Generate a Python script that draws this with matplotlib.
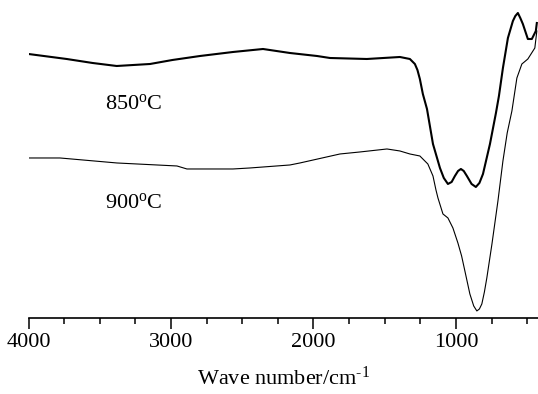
import numpy as np
import matplotlib
matplotlib.use("Agg")
import matplotlib.pyplot as plt
from matplotlib.ticker import MultipleLocator

plt.rcParams['font.family'] = ['Liberation Serif', 'DejaVu Serif']
plt.rcParams['mathtext.fontset'] = 'custom'
plt.rcParams['mathtext.rm'] = 'Liberation Serif'
plt.rcParams['mathtext.it'] = 'Liberation Serif:italic'

# FTIR spectra, transmittance in arbitrary units (curves offset)
wn_850 = [4000, 3732, 3550, 3381, 3147, 2990, 2796, 2565, 2354, 2165, 1975, 1884,
          1625, 1393, 1323, 1288, 1270, 1253, 1232, 1203, 1161, 1112, 1085, 1056,
          1030, 1007, 985, 965, 945, 923, 890, 860, 835, 810, 761, 719, 698,
          670, 635, 600, 583, 565, 548, 530, 495, 467, 439, 432]
t_850 = [264, 259, 255, 252, 254, 258, 262, 266, 269, 265, 262, 260,
         259, 261, 259, 254, 248, 239, 224, 209, 174, 150, 140, 134,
         136, 142, 147, 149, 147, 142, 134, 131, 135, 144, 174, 205, 222,
         250, 280, 297, 302, 305, 300, 294, 279, 279, 287, 295]

wn_900 = [4000, 3779, 3379, 2958, 2888, 2565, 2446, 2165, 2095, 1814, 1674, 1484,
          1393, 1323, 1253, 1197, 1161, 1140, 1126, 1091, 1056, 1021, 986, 960,
          937, 902, 875, 853, 835, 818, 800, 783, 747, 705, 670, 640, 607,
          572, 537, 520, 495, 446, 432]
t_900 = [160, 160, 155, 152, 149, 149, 150, 153, 155, 164, 166, 169,
         167, 164, 162, 154, 142, 128, 120, 104, 100, 90, 75, 62,
         47, 24, 12, 7, 9, 14, 26, 40, 74, 117, 157, 185, 207,
         240, 254, 256, 259, 270, 287]

labels = ['850$^{\\rm o}$C', '900$^{\\rm o}$C']
label_pos = [(3463, 214), (3463, 115)]

fig = plt.figure(figsize=(5.38, 3.94), dpi=100)
ax = fig.add_axes([0.053, 0.193, 0.948, 0.807])

ax.plot(wn_850, t_850, color='black', lw=1.5)
ax.plot(wn_900, t_900, color='black', lw=0.8)

for txt, (x, y) in zip(labels, label_pos):
    ax.text(x, y, txt, fontsize=16, ha='left', va='center')

ax.set_xlim(4000, 420)
ax.set_ylim(0, 318)
for s in ['left', 'right', 'top']:
    ax.spines[s].set_visible(False)
ax.spines['bottom'].set_linewidth(1.2)
ax.set_yticks([])
ax.xaxis.set_major_locator(MultipleLocator(1000))
ax.xaxis.set_minor_locator(MultipleLocator(250))
ax.tick_params(axis='x', which='major', direction='out', length=8, width=1.1,
               labelsize=16, pad=3)
ax.tick_params(axis='x', which='minor', direction='out', length=4.5, width=1.1)
ax.set_xlabel('Wave number/cm$^{\\text{-1}}$', fontsize=16, labelpad=10)

fig.savefig('out.png', dpi=100)
